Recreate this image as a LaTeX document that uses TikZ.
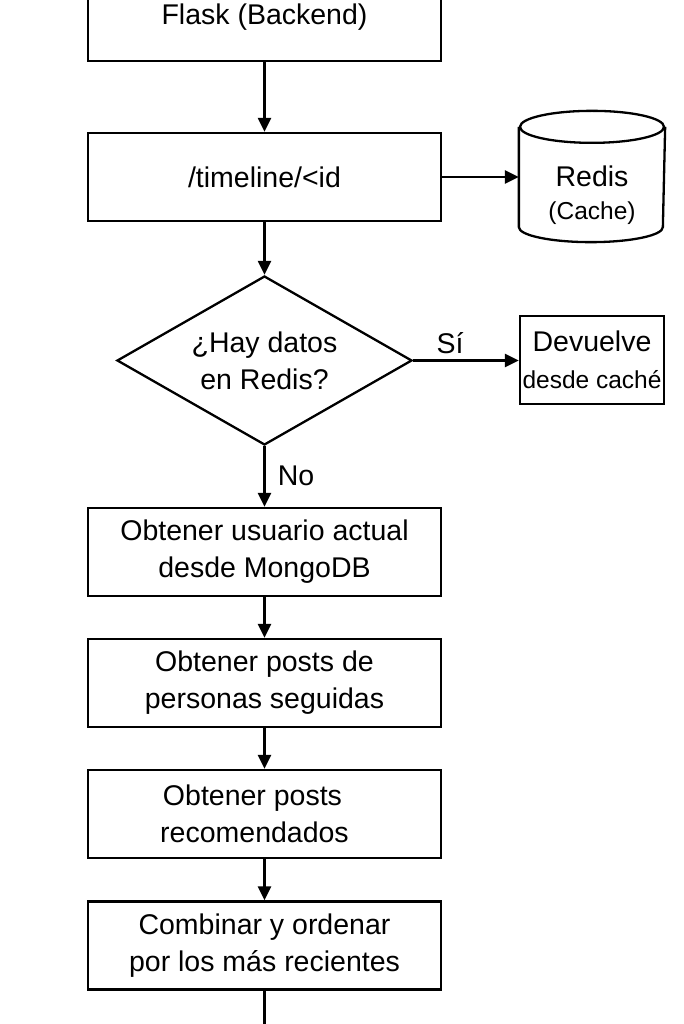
\documentclass[tikz,border=0pt]{standalone}
\usepackage{fontspec}
\setmainfont{Liberation Sans}
\usetikzlibrary{arrows.meta,shapes.geometric}
\newcommand\bigtext{\fontsize{28.5}{37}\selectfont}
\newcommand\smalltext{\fontsize{24.5}{30}\selectfont}
\begin{document}
\begin{tikzpicture}[x=1pt,y=-1pt,line width=2.3pt,
  >={Triangle[length=14pt,width=13pt]},
  box/.style={draw,rectangle,minimum width=353pt,minimum height=88pt,inner sep=0pt,align=center,font=\bigtext},
  decision/.style={draw,diamond,aspect=1.746,minimum width=295pt,minimum height=169pt,inner sep=0pt,align=center,font=\bigtext},
  smallbox/.style={draw,rectangle,minimum width=144pt,minimum height=88pt,inner sep=0pt,align=center,font=\bigtext},
  lbl/.style={font=\bigtext,inner sep=0pt},
  flow/.style={->}]
\useasboundingbox (0,0) rectangle (683,1024);
\fill[white] (0,0) rectangle (683,1024);

\node[box] (flask) at (264.5,17) {Flask (Backend)};
\node[box] (tl) at (264.5,177) {/timeline/<id};
\node[inner sep=0pt,minimum width=144pt,minimum height=129pt] (redis) at (592,176.5) {};
\draw ([yshift=-16pt]redis.north west) -- ([yshift=15pt]redis.south west)
  arc[start angle=180,end angle=360,x radius=72pt,y radius=15pt]
  -- ([yshift=-16pt]redis.north east);
\draw ([yshift=-16pt]redis.north) ellipse [x radius=72pt,y radius=16pt];
\node[align=center,inner sep=0pt,font=\bigtext] (redistext) at (592,195) {Redis\\[-4pt]{\smalltext (Cache)}};

\node[decision] (dec) at (264.5,360.5) {¿Hay datos\\en Redis?};
\node[smallbox] (dev) at (592,360) {Devuelve\\{\smalltext desde caché}};

\node[box] (u) at (264.5,552) {Obtener usuario actual\\desde MongoDB};
\node[box] (p) at (264.5,683) {Obtener posts de\\personas seguidas};
\node[box] (r) at (264.5,814) {Obtener posts\hspace*{24pt}\\recomendados\hspace*{20pt}};
\node[box] (c) at (264.5,945.5) {Combinar y ordenar\\por los más recientes};
\coordinate (end) at (264.5,1045);

\node[lbl] (si) at (450,343) {Sí};
\node[lbl] (no) at (296,476) {No};

\draw[flow] (flask) -- (tl);
\draw[flow] (tl.east) -- (tl.east -| redis.west);
\draw[flow] (tl) -- (dec);
\draw[flow] (dec.east) -- (dec.east -| dev.west);
\draw[flow] (dec) -- (u);
\draw[flow] (u) -- (p);
\draw[flow] (p) -- (r);
\draw[flow] (r) -- (c);
\draw[flow] (c) -- (end);
\end{tikzpicture}
\end{document}
